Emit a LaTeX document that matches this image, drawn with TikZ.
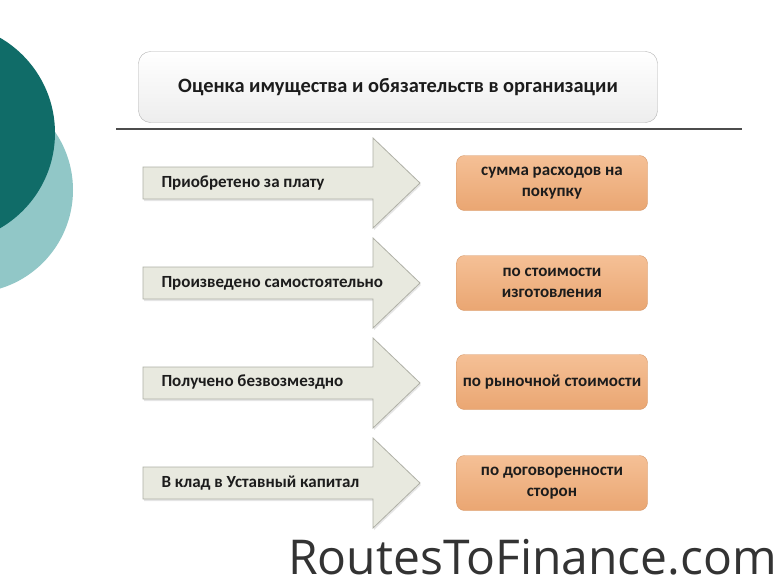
\documentclass[tikz,border=0pt]{standalone}
\usepackage{fontspec}
\setmainfont{Carlito}
\newfontfamily\markfont{Open Sans}
\usetikzlibrary{shadows}

\definecolor{tealdark}{RGB}{16,108,104}
\definecolor{teallight}{RGB}{145,199,199}
\definecolor{arrowfill}{RGB}{232,233,223}
\definecolor{arrowline}{RGB}{175,176,166}
\definecolor{boxtop}{RGB}{245,192,150}
\definecolor{boxbot}{RGB}{234,166,114}
\definecolor{boxline}{RGB}{214,152,104}
\definecolor{inktext}{RGB}{28,28,28}

\tikzset{
  titlebox/.style={draw=gray!60, rounded corners=12pt, top color=white, bottom color=gray!14,
    minimum width=519pt, minimum height=71pt, font=\bfseries\fontsize{20.4}{23}\selectfont, text=inktext},
  flowarrow/.style={draw=arrowline, fill=arrowfill, line width=0.8pt,
    drop shadow={opacity=0.2, shadow xshift=1pt, shadow yshift=-2pt}},
  srclabel/.style={anchor=west, font=\bfseries\fontsize{17}{19}\selectfont, text=inktext},
  valbox/.style={draw=boxline, rounded corners=8pt, top color=boxtop, bottom color=boxbot,
    minimum width=191pt, minimum height=55pt, align=center,
    font=\bfseries\fontsize{17}{21}\selectfont, text=inktext}
}

\begin{document}
\begin{tikzpicture}[x=1pt,y=-1pt]
\useasboundingbox (0,0) rectangle (780,584);
\fill[white] (0,0) rectangle (780,584);
\clip (0,0) rectangle (780,584);

% circles on the left
\fill[teallight] (-30,190) circle (103pt);
\fill[tealdark] (-55,133) circle (110pt);

% title
\node[titlebox] (title) at (398,87) {Оценка имущества и обязательств в организации};
\coordinate (ruleL) at (116,129);
\coordinate (ruleR) at (742,129);
\draw[line width=1.2pt, black!70] (ruleL) -- (ruleR);

% arrows
\path[flowarrow] (143,167) -- (373,167) -- (373,138) -- (420,183) -- (373,228) -- (373,199) -- (143,199) -- cycle;
\path[flowarrow] (143,267) -- (373,267) -- (373,238) -- (420,283) -- (373,328) -- (373,299) -- (143,299) -- cycle;
\path[flowarrow] (143,367) -- (373,367) -- (373,338) -- (420,383) -- (373,428) -- (373,399) -- (143,399) -- cycle;
\path[flowarrow] (143,467) -- (373,467) -- (373,438) -- (420,483) -- (373,528) -- (373,499) -- (143,499) -- cycle;

\begin{scope}[every node/.style={srclabel}]
    \node (bought) at (158,183) {Приобретено за плату};
    \node (made) at (158,283) {Произведено самостоятельно};
    \node (free) at (158,382) {Получено безвозмездно};
    \node (capital) at (158,483) {В клад в Уставный капитал};
\end{scope}

\begin{scope}[every node/.style={valbox}]
    \node (cost) at (552,183) {сумма расходов на\\покупку};
    \node (prod) at (552,283) {по стоимости\\изготовления};
    \node (market) at (552,382) {по рыночной стоимости};
    \node (agree) at (552,483) {по договоренности\\сторон};
\end{scope}

% watermark
\node[anchor=base west, font=\markfont\fontsize{48}{52}\selectfont, text=black!80, inner sep=0pt] (mark) at (288,574) {RoutesToFinance.com};
\end{tikzpicture}
\end{document}
